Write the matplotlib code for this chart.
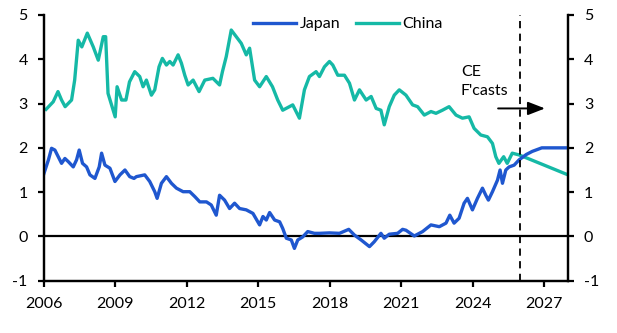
import matplotlib
matplotlib.use("Agg")
import matplotlib.pyplot as plt

plt.rcParams['font.family'] = ['Lato', 'DejaVu Sans']
plt.rcParams['font.size'] = 11.5

# 10年国債利回り(%) - 図から目で読んだ値
japan_year = [2006.01, 2006.2, 2006.33, 2006.47, 2006.61, 2006.75, 2006.89, 2007.03, 2007.24,
              2007.38, 2007.49, 2007.63, 2007.8, 2007.94, 2008.15, 2008.33, 2008.43, 2008.57,
              2008.78, 2008.99, 2009.2, 2009.41, 2009.61, 2009.79, 2009.89, 2010.24, 2010.45,
              2010.66, 2010.76, 2010.94, 2011.15, 2011.36, 2011.57, 2011.85, 2012.13, 2012.34,
              2012.55, 2012.83, 2013.03, 2013.24, 2013.38, 2013.59, 2013.8, 2014.01, 2014.22,
              2014.5, 2014.78, 2015.06, 2015.2, 2015.34, 2015.48, 2015.69, 2015.9, 2016.03,
              2016.18, 2016.39, 2016.52, 2016.66, 2016.87, 2017.08, 2017.36, 2017.57, 2017.99,
              2018.41, 2018.8, 2019.04, 2019.32, 2019.67, 2019.87, 2020.15, 2020.29, 2020.5,
              2020.85, 2021.06, 2021.2, 2021.55, 2021.9, 2022.25, 2022.6, 2022.88, 2023.04,
              2023.22, 2023.43, 2023.64, 2023.78, 2023.99, 2024.2, 2024.41, 2024.55, 2024.66,
              2024.83, 2025.04, 2025.15, 2025.25, 2025.39, 2025.53, 2025.74, 2025.95]
japan_yield = [1.42, 1.73, 1.99, 1.95, 1.80, 1.65, 1.76, 1.69, 1.57,
               1.73, 1.95, 1.65, 1.57, 1.39, 1.31, 1.57, 1.88, 1.61,
               1.54, 1.24, 1.39, 1.50, 1.35, 1.31, 1.35, 1.39, 1.24,
               1.01, 0.86, 1.20, 1.35, 1.20, 1.09, 1.01, 1.01, 0.90,
               0.78, 0.78, 0.71, 0.48, 0.93, 0.82, 0.63, 0.75, 0.63,
               0.60, 0.52, 0.26, 0.45, 0.37, 0.54, 0.37, 0.33, 0.18,
               -0.04, -0.08, -0.27, -0.08, -0.01, 0.11, 0.07, 0.07, 0.08,
               0.07, 0.16, 0.03, -0.08, -0.23, -0.12, 0.07, -0.04, 0.05,
               0.07, 0.16, 0.14, 0.01, 0.11, 0.26, 0.22, 0.30, 0.48,
               0.30, 0.41, 0.75, 0.86, 0.60, 0.86, 1.09, 0.93, 0.82,
               1.01, 1.27, 1.50, 1.20, 1.50, 1.57, 1.61, 1.73]

china_year = [2006.1, 2006.4, 2006.6, 2006.75, 2006.9, 2007.17, 2007.3, 2007.45, 2007.6,
              2007.83, 2008.08, 2008.29, 2008.5, 2008.6, 2008.7, 2009.0, 2009.08, 2009.27,
              2009.45, 2009.6, 2009.82, 2010.03, 2010.17, 2010.31, 2010.52, 2010.66, 2010.84,
              2010.98, 2011.15, 2011.29, 2011.43, 2011.64, 2011.78, 2011.92, 2012.06, 2012.27,
              2012.52, 2012.76, 2013.1, 2013.38, 2013.5, 2013.66, 2013.87, 2014.08, 2014.29,
              2014.5, 2014.64, 2014.85, 2015.06, 2015.34, 2015.6, 2015.82, 2016.03, 2016.31,
              2016.45, 2016.73, 2016.94, 2017.15, 2017.43, 2017.57, 2017.78, 2017.99, 2018.13,
              2018.34, 2018.62, 2018.83, 2019.04, 2019.25, 2019.53, 2019.74, 2019.95, 2020.15,
              2020.29, 2020.5, 2020.71, 2020.92, 2021.2, 2021.48, 2021.69, 2021.97, 2022.25,
              2022.46, 2022.73, 2023.01, 2023.3, 2023.57, 2023.85, 2024.06, 2024.34, 2024.62,
              2024.83, 2024.97, 2025.1, 2025.3, 2025.45, 2025.66, 2025.95]
china_yield = [2.87, 3.04, 3.27, 3.08, 2.93, 3.08, 3.53, 4.43, 4.28,
               4.59, 4.28, 3.98, 4.51, 4.51, 3.23, 2.70, 3.38, 3.08,
               3.08, 3.49, 3.72, 3.61, 3.38, 3.53, 3.19, 3.31, 3.83,
               4.02, 3.87, 3.95, 3.87, 4.10, 3.91, 3.64, 3.42, 3.53,
               3.27, 3.53, 3.57, 3.42, 3.72, 4.06, 4.66, 4.51, 4.36,
               4.10, 4.25, 3.53, 3.38, 3.61, 3.38, 3.08, 2.85, 2.93,
               2.97, 2.67, 3.31, 3.61, 3.72, 3.61, 3.83, 3.95, 3.87,
               3.64, 3.64, 3.46, 3.08, 3.31, 3.08, 3.16, 2.89, 2.85,
               2.52, 2.93, 3.19, 3.31, 3.19, 2.97, 2.93, 2.74, 2.82,
               2.78, 2.85, 2.93, 2.74, 2.67, 2.70, 2.44, 2.29, 2.25,
               2.10, 1.80, 1.65, 1.80, 1.65, 1.88, 1.84]

# 予測
japan_fc_year = [2025.95, 2026.25, 2026.5, 2026.9, 2027.5, 2028.0]
japan_fc_yield = [1.73, 1.85, 1.92, 2.0, 2.0, 2.0]
china_fc_year = [2025.95, 2026.5, 2027.0, 2027.5, 2028.0]
china_fc_yield = [1.84, 1.72, 1.61, 1.50, 1.39]

x_ticks = [2006, 2009, 2012, 2015, 2018, 2021, 2024, 2027]
y_ticks = [-1, 0, 1, 2, 3, 4, 5]

c_japan = "#1f57cf"
c_china = "#15b9a6"

fig = plt.figure(figsize=(6.17, 3.33), dpi=100)
ax = fig.add_axes([0.0708, 0.157, 0.8498, 0.798])

ax.axhline(0, color="black", lw=1.6, zorder=1)
ax.plot(japan_year + japan_fc_year[1:], japan_yield + japan_fc_yield[1:],
        color=c_japan, lw=2.4, label="Japan", zorder=3)
ax.plot(china_year + china_fc_year[1:], china_yield + china_fc_yield[1:],
        color=c_china, lw=2.4, label="China", zorder=2)

ax.axvline(2026, color="black", lw=1.3, ls=(0, (4, 3)), zorder=4)

ax.text(2023.5, 3.12, "CE\nF'casts", ha="left", va="bottom", linespacing=1.5, fontsize=11.5)
ax.annotate("", xy=(2027.15, 2.89), xytext=(2024.95, 2.89),
            arrowprops=dict(arrowstyle="-|>,head_length=0.9,head_width=0.35",
                            color="black", lw=1.4))

ax.set_xlim(2006, 2028)
ax.set_ylim(-1, 5)
ax.set_xticks(x_ticks)
ax.set_xticklabels([str(t) for t in x_ticks])
ax.set_yticks(y_ticks)
ax.set_yticklabels([str(t) for t in y_ticks])

ax2 = ax.twinx()
ax2.set_ylim(-1, 5)
ax2.set_yticks(y_ticks)
ax2.set_yticklabels([str(t) for t in y_ticks])

for a in (ax, ax2):
    a.spines["top"].set_visible(False)
    for s in ("left", "right", "bottom"):
        a.spines[s].set_linewidth(1.6)
    a.tick_params(direction="out", length=4.5, width=1.6, labelsize=11.5)
ax.tick_params(axis="x", pad=7)
ax.tick_params(axis="y", pad=7)
ax2.tick_params(axis="y", pad=7)

ax.legend(loc="center", bbox_to_anchor=(0.58, 0.966), ncol=2, frameon=False,
          handlelength=2.7, handletextpad=0.2, columnspacing=1.0, fontsize=11.5)

fig.savefig("out.png", dpi=100)
